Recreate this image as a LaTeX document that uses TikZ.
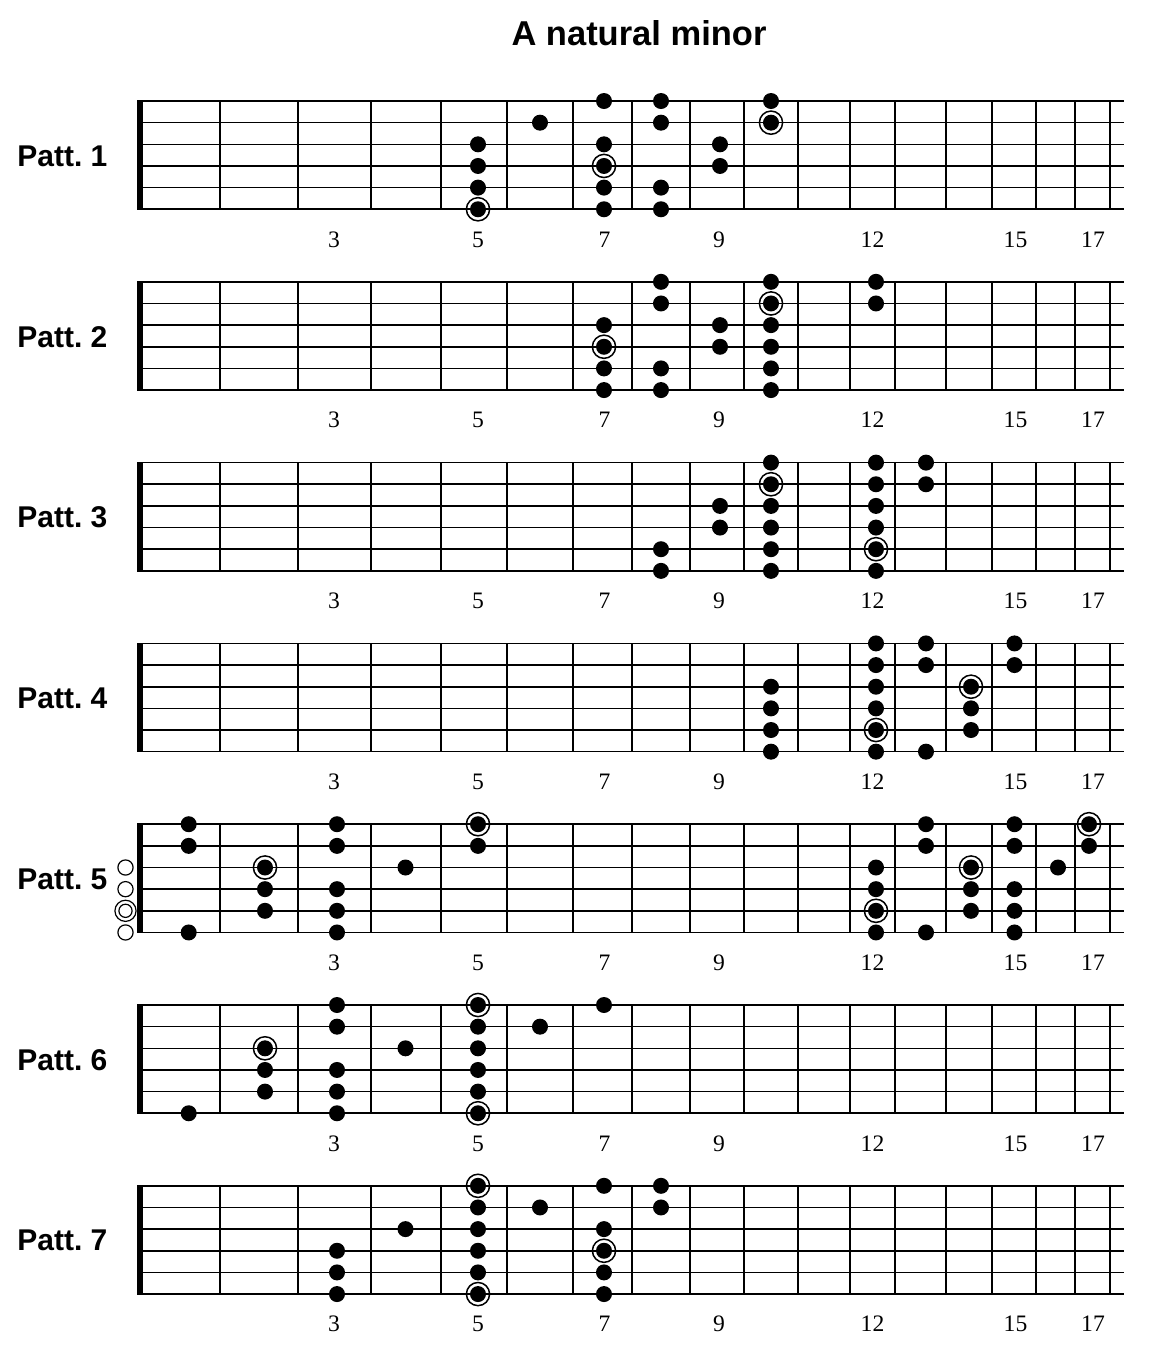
\documentclass[tikz,border=0pt]{standalone}
\usepackage{fontspec}
\setmainfont{Liberation Serif}
\setsansfont{Liberation Sans}

% fret wires and note columns, in pixels from the left edge
\def\fretx{{139.7,219.8,298,371,441,507,573,631.5,690,744,798,849.5,895.2,946.3,992.3,1035.5,1074.7,1109.8}}
\def\notex{{125.5,188.7,265,337,405.5,478,540,604,661,720,771,823,876,926,971,1014.5,1058,1089}}

\begin{document}
\begin{tikzpicture}[x=0.5pt, y=-0.5pt,
    string/.style = {line width=0.8pt},
    fretwire/.style = {line width=1pt},
    nut/.style = {line width=2.8pt},
    note/.style = {circle, fill, inner sep=0pt, minimum size=8pt},
    root/.style = {circle, draw, line width=0.75pt, inner sep=0pt, minimum size=11.6pt},
    open/.style = {circle, draw, fill=white, line width=0.6pt, inner sep=0pt, minimum size=7.6pt},
    fretnum/.style = {font=\fontsize{11.8}{12}\selectfont, anchor=base, inner sep=0pt},
    patt/.style = {font=\sffamily\bfseries\fontsize{15}{18}\selectfont, anchor=west, inner sep=0pt}]

\useasboundingbox (0,0) rectangle (1154,1351);
\node[font=\sffamily\bfseries\fontsize{17.25}{20}\selectfont, anchor=base] (title) at (639,45) {A natural minor};

% the seven boards
\foreach \p in {1,...,7} {
  \pgfmathsetmacro\ytop{101+180.8*(\p-1)}
  \foreach \s in {0,...,5}
    \draw[string] (137,\ytop+21.65*\s) -- (1124,\ytop+21.65*\s);
  \foreach \f in {1,...,17} {
    \pgfmathsetmacro\wirex{\fretx[\f]}
    \draw[fretwire] (\wirex,\ytop) -- (\wirex,\ytop+108.25);
  }
  \draw[nut] (139.7,\ytop-0.4) -- (139.7,\ytop+108.65);
  \node[patt] (patt\p) at (17,\ytop+55) {Patt.\ \p};
  \foreach \n/\lx in {3/334,5/478,7/604.5,9/719,12/872.5,15/1015.5,17/1093}
    \node[fretnum] (num\p-\n) at (\lx,\ytop+146) {\n};
}

% notes as fret/string, string 1 on top; roots get a ring
\foreach \p/\notes/\roots in {
  1/{5/3,5/4,5/5,5/6,6/2,7/1,7/3,7/4,7/5,7/6,8/1,8/2,8/5,8/6,9/3,9/4,10/1,10/2}/{5/6,7/4,10/2},
  2/{7/3,7/4,7/5,7/6,8/1,8/2,8/5,8/6,9/3,9/4,10/1,10/2,10/3,10/4,10/5,10/6,12/1,12/2}/{7/4,10/2},
  3/{8/5,8/6,9/3,9/4,10/1,10/2,10/3,10/4,10/5,10/6,12/1,12/2,12/3,12/4,12/5,12/6,13/1,13/2}/{10/2,12/5},
  4/{10/3,10/4,10/5,10/6,12/1,12/2,12/3,12/4,12/5,12/6,13/1,13/2,13/6,14/3,14/4,14/5,15/1,15/2}/{12/5,14/3},
  5/{1/1,1/2,1/6,2/3,2/4,2/5,3/1,3/2,3/4,3/5,3/6,4/3,5/1,5/2,12/3,12/4,12/5,12/6,13/1,13/2,13/6,14/3,14/4,14/5,15/1,15/2,15/4,15/5,15/6,16/3,17/1,17/2}/{2/3,5/1,12/5,14/3,17/1},
  6/{1/6,2/3,2/4,2/5,3/1,3/2,3/4,3/5,3/6,4/3,5/1,5/2,5/3,5/4,5/5,5/6,6/2,7/1}/{2/3,5/1,5/6},
  7/{3/4,3/5,3/6,4/3,5/1,5/2,5/3,5/4,5/5,5/6,6/2,7/1,7/3,7/4,7/5,7/6,8/1,8/2}/{5/1,5/6,7/4}} {
  \pgfmathsetmacro\ytop{101+180.8*(\p-1)}
  \foreach \f/\s in \notes {
    \pgfmathsetmacro\nx{\notex[\f]}
    \pgfmathsetmacro\ny{\ytop+21.65*(\s-1)}
    \node[note] (p\p-\f-\s) at (\nx,\ny) {};
  }
  \foreach \f/\s in \roots {
    \pgfmathsetmacro\nx{\notex[\f]}
    \pgfmathsetmacro\ny{\ytop+21.65*(\s-1)}
    \node[root] (r\p-\f-\s) at (\nx,\ny) {};
  }
}

% open strings of pattern 5
\foreach \s in {3,4,6}
  \node[open] (p5-0-\s) at ({125.5},{824.2+21.65*(\s-1)}) {};
\node[open, minimum size=6.6pt] (p5-0-5) at (125.5,910.8) {};
\node[root, line width=0.6pt, minimum size=10.6pt] (r5-0-5) at (125.5,910.8) {};
\end{tikzpicture}
\end{document}
